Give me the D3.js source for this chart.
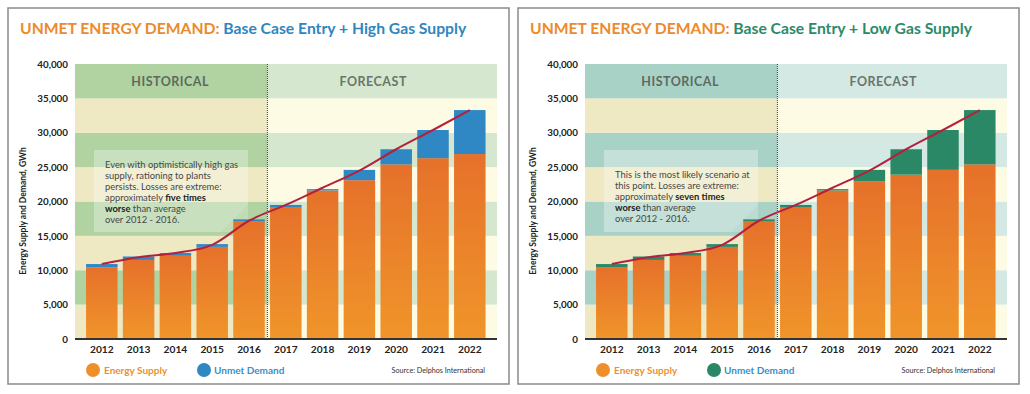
<!DOCTYPE html>
<html>
<head>
<meta charset="utf-8">
<script src="https://d3js.org/d3.v7.min.js"></script>
<style>
  body { margin: 0; background: #fff; }
  svg { display: block; font-family: Lato, "Open Sans", sans-serif; }
</style>
</head>
<body>
<svg id="chart" width="1030" height="394"></svg>
<script>
// Years on the x axis
const years = [2012, 2013, 2014, 2015, 2016, 2017, 2018, 2019, 2020, 2021, 2022];

// High gas supply scenario (GWh)
const supplyHigh = [10400, 11500, 12100, 13400, 17100, 19200, 21600, 23100, 25400, 26300, 26900];
const unmetHigh = [500, 500, 400, 400, 300, 300, 200, 1500, 2200, 4100, 6400];

// Low gas supply scenario (GWh)
const supplyLow = [10400, 11500, 12100, 13400, 17100, 19200, 21600, 22900, 23900, 24600, 25400];
const unmetLow = [500, 500, 400, 400, 300, 300, 200, 1700, 3700, 5800, 7900];

// Demand trend line (same in both panels)
const demandLine = [10900, 11900, 12500, 13700, 17200, 19500, 22000, 24500, 27600, 30400, 33300];

const yTicks = [0, 5000, 10000, 15000, 20000, 25000, 30000, 35000, 40000];
const lastHistoricalYear = 2016;

const noteHigh = [
  [['Even with optimistically high gas', false]],
  [['supply, rationing to plants', false]],
  [['persists. Losses are extreme:', false]],
  [['approximately ', false], ['five times', true]],
  [['worse', true], [' than average', false]],
  [['over 2012 - 2016.', false]]
];
const noteLow = [
  [['This is the most likely scenario at', false]],
  [['this point. Losses are extreme:', false]],
  [['approximately ', false], ['seven times', true]],
  [['worse', true], [' than average', false]],
  [['over 2012 - 2016.', false]]
];

const svg = d3.select('#chart');
const defs = svg.append('defs');

// Orange gradient used for the supply bars
const grad = defs.append('linearGradient')
  .attr('id', 'orangeGrad')
  .attr('x1', 0).attr('y1', 0).attr('x2', 0).attr('y2', 1);
grad.append('stop').attr('offset', '0%').attr('stop-color', '#e6712a');
grad.append('stop').attr('offset', '100%').attr('stop-color', '#f0952a');

const y = d3.scaleLinear().domain([0, 40000]).range([339, 64]);

function drawPanel(ox, cfg) {
  const g = svg.append('g').attr('transform', `translate(${ox},0)`);

  // panel frame
  g.append('rect')
    .attr('x', 0).attr('y', 8).attr('width', 501).attr('height', 376)
    .attr('fill', '#fff').attr('stroke', '#8a8a8a').attr('stroke-width', 1.5);

  const plotL = 67, plotR = 489;
  const x = d3.scaleBand().domain(years)
    .range([75.4, 480.2]).paddingInner(0.144).paddingOuter(0.072);
  const divX = x(lastHistoricalYear) + x.bandwidth() + (x.step() - x.bandwidth()) / 2;

  // striped background, stronger colours on the historical side
  const stripes = d3.pairs(yTicks).map((p, i) => ({ lo: p[0], hi: p[1], i }));
  const stripeG = g.append('g');
  stripeG.selectAll('rect.hist')
    .data(stripes)
    .join('rect')
    .attr('class', 'hist')
    .attr('x', plotL).attr('width', divX - plotL)
    .attr('y', d => y(d.hi)).attr('height', d => y(d.lo) - y(d.hi))
    .attr('fill', d => d.i % 2 ? cfg.histBand : '#eee8c3');
  stripeG.selectAll('rect.fore')
    .data(stripes)
    .join('rect')
    .attr('class', 'fore')
    .attr('x', divX).attr('width', plotR - divX)
    .attr('y', d => y(d.hi)).attr('height', d => y(d.lo) - y(d.hi))
    .attr('fill', d => d.i % 2 ? cfg.foreBand : '#fdfbe3');

  // section headers
  g.append('text')
    .attr('x', (plotL + divX) / 2 - 1).attr('y', 86)
    .attr('text-anchor', 'middle')
    .attr('font-size', 12.5).attr('font-weight', 'bold')
    .attr('letter-spacing', 0.5)
    .attr('fill', '#5d6a5f')
    .text('HISTORICAL');
  g.append('text')
    .attr('x', (divX + plotR) / 2 - 9).attr('y', 86)
    .attr('text-anchor', 'middle')
    .attr('font-size', 12.5).attr('font-weight', 'bold')
    .attr('letter-spacing', 0.5)
    .attr('fill', '#6a756c')
    .text('FORECAST');

  // annotation box
  const note = g.append('g');
  note.append('rect')
    .attr('x', 86).attr('y', 150).attr('width', 154).attr('height', 82)
    .attr('fill', '#fff').attr('fill-opacity', 0.22);
  note.append('path')
    .attr('d', 'M86,150H240V205L213,232H86Z')
    .attr('fill', '#fff').attr('fill-opacity', 0.12);
  const lineStart = cfg.note.length === 6 ? 168 : 178;
  cfg.note.forEach((parts, li) => {
    const t = note.append('text')
      .attr('x', 97).attr('y', lineStart + li * 10.9)
      .attr('font-size', 9.4).attr('fill', '#474747');
    parts.forEach(([s, bold]) => {
      t.append('tspan')
        .attr('font-weight', bold ? 'bold' : 'normal')
        .attr('fill', bold ? '#222' : '#474747')
        .text(s);
    });
  });

  // stacked bars
  const rows = years.map((yr, i) => ({ yr, supply: cfg.supply[i], unmet: cfg.unmet[i] }));
  const bars = g.append('g');
  bars.selectAll('rect.supply')
    .data(rows)
    .join('rect')
    .attr('class', 'supply')
    .attr('x', d => x(d.yr)).attr('width', x.bandwidth())
    .attr('y', d => y(d.supply)).attr('height', d => y(0) - y(d.supply))
    .attr('fill', 'url(#orangeGrad)');
  bars.selectAll('rect.unmet')
    .data(rows)
    .join('rect')
    .attr('class', 'unmet')
    .attr('x', d => x(d.yr)).attr('width', x.bandwidth())
    .attr('y', d => y(d.supply + d.unmet)).attr('height', d => y(d.supply) - y(d.supply + d.unmet))
    .attr('fill', cfg.unmetColor);

  // historical / forecast divider
  g.append('line')
    .attr('x1', divX).attr('x2', divX).attr('y1', 64).attr('y2', 339)
    .attr('stroke', '#3d3d3d').attr('stroke-width', 1)
    .attr('stroke-dasharray', '1,1');

  // demand line
  const line = d3.line()
    .x((d, i) => x(years[i]) + x.bandwidth() / 2)
    .y(d => y(d))
    .curve(d3.curveMonotoneX);
  g.append('path')
    .datum(demandLine)
    .attr('d', line)
    .attr('fill', 'none').attr('stroke', '#b3213e').attr('stroke-width', 2);

  // baseline
  g.append('line')
    .attr('x1', plotL).attr('x2', plotR).attr('y1', 339).attr('y2', 339)
    .attr('stroke', '#333').attr('stroke-width', 2);

  // y axis labels
  const yAxis = d3.axisLeft(y).tickValues(yTicks).tickSize(0).tickPadding(0)
    .tickFormat(d3.format(','));
  g.append('g')
    .attr('transform', 'translate(60,0)')
    .call(yAxis)
    .call(a => a.select('.domain').remove())
    .selectAll('text')
    .attr('font-family', 'Lato, sans-serif')
    .attr('font-size', 9.8).attr('font-weight', 'bold').attr('fill', '#222');

  g.append('text')
    .attr('transform', 'translate(18,211) rotate(-90)')
    .attr('text-anchor', 'middle')
    .attr('font-size', 8.5).attr('font-weight', 'bold').attr('fill', '#222')
    .text('Energy Supply and Demand, GWh');

  // x axis labels
  const xAxis = d3.axisBottom(x).tickSize(0).tickPadding(0);
  g.append('g')
    .attr('transform', 'translate(0,346)')
    .call(xAxis)
    .call(a => a.select('.domain').remove())
    .selectAll('text')
    .attr('font-family', 'Lato, sans-serif')
    .attr('font-size', 10.2).attr('font-weight', 'bold').attr('fill', '#222');

  // title
  const title = g.append('text')
    .attr('x', 12).attr('y', 34)
    .attr('font-size', 15.7).attr('font-weight', 'bold');
  title.append('tspan').attr('fill', '#ec8a2e').text('UNMET ENERGY DEMAND: ');
  title.append('tspan').attr('fill', cfg.titleColor).text(cfg.subtitle);

  // legend
  const leg = g.append('g');
  leg.append('circle').attr('cx', 85).attr('cy', 370).attr('r', 7).attr('fill', '#ef8f2c');
  leg.append('text').attr('x', 96).attr('y', 373.5)
    .attr('font-size', 10).attr('font-weight', 'bold').attr('fill', '#ef8f2c')
    .text('Energy Supply');
  leg.append('circle').attr('cx', 196).attr('cy', 370).attr('r', 7).attr('fill', cfg.unmetColor);
  leg.append('text').attr('x', 206).attr('y', 373.5)
    .attr('font-size', 10).attr('font-weight', 'bold').attr('fill', '#3b8ec9')
    .text('Unmet Demand');
  leg.append('text').attr('x', 477).attr('y', 372.5)
    .attr('text-anchor', 'end')
    .attr('font-size', 7.2).attr('fill', '#333')
    .text('Source: Delphos International');
}

drawPanel(8, {
  supply: supplyHigh, unmet: unmetHigh, note: noteHigh,
  unmetColor: '#2f87c4', titleColor: '#2e86c1',
  subtitle: 'Base Case Entry + High Gas Supply',
  histBand: '#b0d3a1', foreBand: '#d5e8cf'
});
drawPanel(518, {
  supply: supplyLow, unmet: unmetLow, note: noteLow,
  unmetColor: '#2b8867', titleColor: '#2b8a6b',
  subtitle: 'Base Case Entry + Low Gas Supply',
  histBand: '#a9d2c7', foreBand: '#d4e9e4'
});
</script>
</body>
</html>
